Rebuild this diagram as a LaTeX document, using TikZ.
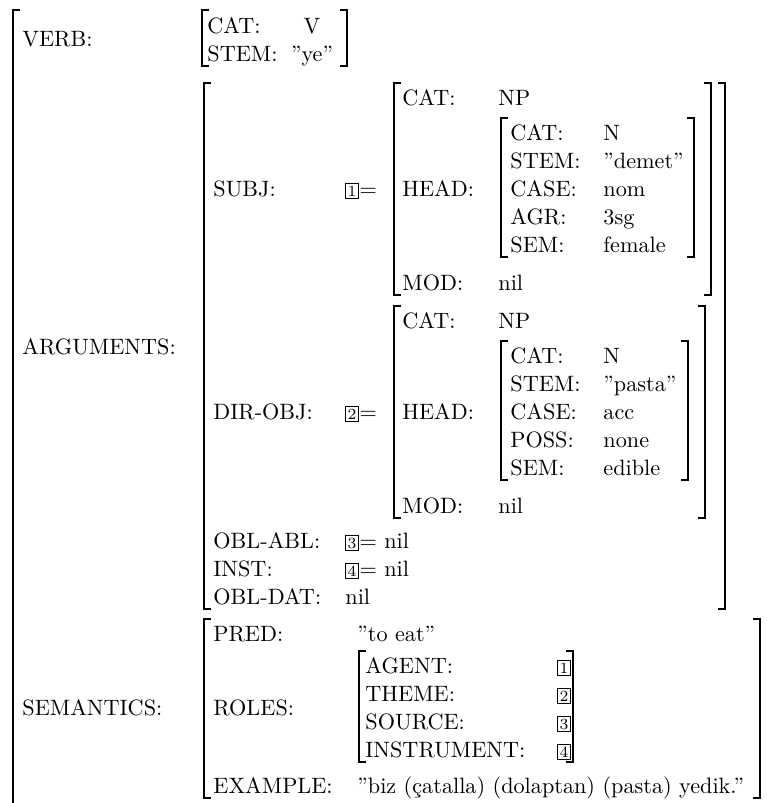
\documentclass[tikz,border=0pt]{standalone}
\usetikzlibrary{positioning}

\tikzset{
  lbl/.style={anchor=base west, inner sep=0pt},
  mid/.style={anchor=base, inner sep=0pt},
  tag/.style={draw, line width=0.4pt, font=\scriptsize, inner sep=1pt, anchor=base west},
  brk/.style={line width=0.9pt},
}
% square brackets of the feature matrices
\newcommand{\avml}[3]{\draw[brk] (#1+7,#2) -- (#1,#2) -- (#1,#3) -- (#1+7,#3);}
\newcommand{\avmr}[3]{\draw[brk] (#1-7,#2) -- (#1,#2) -- (#1,#3) -- (#1-7,#3);}

\begin{document}
\begin{tikzpicture}[x=0.45pt, y=-0.45pt]
  \useasboundingbox (0,0) rectangle (767,803);

  % outer matrix
  \draw[brk] (20,10) -- (13,10) -- (13,812);

  % VERB
  \node (verb) [lbl] at (22,46) {VERB:};
  \avml{202}{10}{66} \avmr{347}{10}{66}
  \node (vcat) [lbl] at (207,33) {CAT:};
  \node (vcatv) [mid] at (312,33) {V};
  \node (vstem) [lbl] at (207,61) {STEM:};
  \node (vstemv) [mid] at (312,61) {''ye''};

  % ARGUMENTS
  \node (args) [lbl] at (22,354) {ARGUMENTS:};
  \avml{204}{83}{609} \avmr{725}{83}{609}

  % SUBJ
  \node (subj) [lbl] at (213,196) {SUBJ:};
  \node (t1) [tag] at (345,196) {1};
  \node (e1) [lbl] at (t1.base east) {=};
  \avml{394}{83}{295} \avmr{711}{83}{295}
  \node (scat) [lbl] at (402,105) {CAT:};
  \node (scatv) [lbl] at (498,105) {NP};
  \node (shead) [lbl] at (402,196) {HEAD:};
  \avml{501}{118}{257} \avmr{694}{118}{257}
  \foreach \k/\v [count=\i] in {CAT:/N, STEM:/''demet'', CASE:/nom, AGR:/3sg, SEM:/female}{
    \node (sh\i) [lbl] at (510,112+28*\i) {\k};
    \node (shv\i) [lbl] at (603,112+28*\i) {\v};
  }
  \node (smod) [lbl] at (402,290) {MOD:};
  \node (smodv) [lbl] at (498,290) {nil};

  % DIR-OBJ
  \node (dobj) [lbl] at (213,419) {DIR-OBJ:};
  \node (t2) [tag] at (345,419) {2};
  \node (e2) [lbl] at (t2.base east) {=};
  \avml{394}{306}{518} \avmr{705}{306}{518}
  \node (dcat) [lbl] at (402,328) {CAT:};
  \node (dcatv) [lbl] at (498,328) {NP};
  \node (dhead) [lbl] at (402,419) {HEAD:};
  \avml{501}{341}{480} \avmr{688}{341}{480}
  \foreach \k/\v [count=\i] in {CAT:/N, STEM:/''pasta'', CASE:/acc, POSS:/none, SEM:/edible}{
    \node (dh\i) [lbl] at (510,335+28*\i) {\k};
    \node (dhv\i) [lbl] at (603,335+28*\i) {\v};
  }
  \node (dmod) [lbl] at (402,513) {MOD:};
  \node (dmodv) [lbl] at (498,513) {nil};

  % oblique arguments
  \node (oabl) [lbl] at (213,548) {OBL-ABL:};
  \node (t3) [tag] at (345,548) {3};
  \node (e3) [lbl] at (t3.base east) {= nil};
  \node (inst) [lbl] at (213,576) {INST:};
  \node (t4) [tag] at (345,576) {4};
  \node (e4) [lbl] at (t4.base east) {= nil};
  \node (odat) [lbl] at (213,604) {OBL-DAT:};
  \node (odatv) [lbl] at (345,604) {nil};

  % SEMANTICS
  \node (sem) [lbl] at (22,715) {SEMANTICS:};
  \avml{204}{619}{798} \avmr{760}{619}{798}
  \node (pred) [lbl] at (213,641) {PRED:};
  \node (predv) [lbl] at (357,641) {''to eat''};
  \node (roles) [lbl] at (213,715) {ROLES:};
  \avml{359}{651}{762} \avmr{573}{651}{762}
  \foreach \r [count=\i] in {AGENT:, THEME:, SOURCE:, INSTRUMENT:}{
    \node (r\i) [lbl] at (365,645+28*\i) {\r};
    \node (rt\i) [tag] at (557,645+28*\i) {\i};
  }
  \node (ex) [lbl] at (213,793) {EXAMPLE:};
  \node (exv) [lbl] at (357,793) {''biz (çatalla) (dolaptan) (pasta) yedik.''};
\end{tikzpicture}
\end{document}
